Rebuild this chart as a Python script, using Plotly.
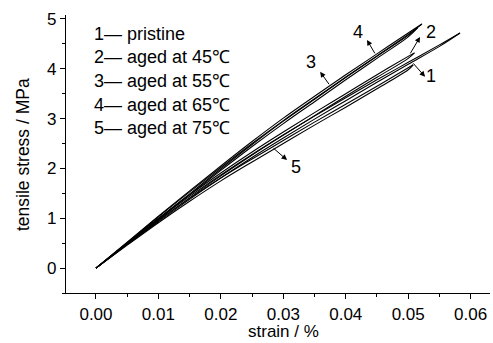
import plotly.graph_objects as go

# ---- data ----
curve_ids = ["1", "2", "3", "4", "5"]
legend_labels = ["pristine", "aged at 45℃", "aged at 55℃", "aged at 65℃", "aged at 75℃"]

strain_1 = [0, 0.005, 0.01, 0.015, 0.02, 0.025, 0.03, 0.035, 0.04, 0.045, 0.05, 0.055, 0.0583]
load_1 = [0, 0.50, 0.98, 1.44, 1.87, 2.28, 2.67, 3.05, 3.42, 3.78, 4.13, 4.48, 4.72]
unload_1 = [0, 0.47, 0.93, 1.38, 1.81, 2.22, 2.61, 2.99, 3.36, 3.73, 4.09, 4.45, 4.72]

strain_2 = [0, 0.005, 0.01, 0.015, 0.02, 0.025, 0.03, 0.035, 0.04, 0.045, 0.05, 0.051]
load_2 = [0, 0.51, 1.00, 1.47, 1.91, 2.33, 2.73, 3.12, 3.50, 3.88, 4.25, 4.32]
unload_2 = [0, 0.48, 0.95, 1.41, 1.85, 2.27, 2.67, 3.06, 3.45, 3.83, 4.21, 4.32]

strain_3 = [0, 0.005, 0.01, 0.015, 0.02, 0.025, 0.03, 0.035, 0.04, 0.045, 0.05, 0.0515]
load_3 = [0, 0.51, 1.03, 1.53, 2.02, 2.50, 2.96, 3.40, 3.83, 4.25, 4.67, 4.82]
unload_3 = [0, 0.48, 0.98, 1.47, 1.96, 2.44, 2.90, 3.34, 3.78, 4.21, 4.64, 4.82]

strain_4 = [0, 0.005, 0.01, 0.015, 0.02, 0.025, 0.03, 0.035, 0.04, 0.045, 0.05, 0.0522]
load_4 = [0, 0.52, 1.04, 1.55, 2.05, 2.54, 3.01, 3.45, 3.88, 4.30, 4.72, 4.90]
unload_4 = [0, 0.49, 0.99, 1.49, 1.99, 2.48, 2.95, 3.39, 3.83, 4.26, 4.69, 4.90]

strain_5 = [0, 0.005, 0.01, 0.015, 0.02, 0.025, 0.03, 0.035, 0.04, 0.045, 0.05, 0.0508]
load_5 = [0, 0.49, 0.96, 1.40, 1.81, 2.19, 2.56, 2.93, 3.29, 3.65, 4.02, 4.08]
unload_5 = [0, 0.46, 0.91, 1.34, 1.75, 2.13, 2.50, 2.87, 3.23, 3.60, 3.98, 4.08]

curves = [
    (strain_1, load_1, unload_1),
    (strain_2, load_2, unload_2),
    (strain_3, load_3, unload_3),
    (strain_4, load_4, unload_4),
    (strain_5, load_5, unload_5),
]

# label callouts: (curve id, label x, label y, arrow head x, arrow head y, curve point x, curve point y)
callouts = [
    ("1", 0.0536, 3.86, 0.0527, 3.84, 0.0506, 4.14),
    ("2", 0.0536, 4.74, 0.0519, 4.64, 0.0502, 4.28),
    ("3", 0.0345, 4.13, 0.0359, 3.94, 0.0375, 3.66),
    ("4", 0.0420, 4.74, 0.0434, 4.58, 0.0448, 4.28),
    ("5", 0.0320, 2.02, 0.0306, 2.17, 0.0282, 2.43),
]

x_ticks = [0.00, 0.01, 0.02, 0.03, 0.04, 0.05, 0.06]
x_tick_labels = ["0.00", "0.01", "0.02", "0.03", "0.04", "0.05", "0.06"]
y_ticks = [0, 1, 2, 3, 4, 5]
y_tick_labels = ["0", "1", "2", "3", "4", "5"]
x_title = "strain / %"
y_title = "tensile stress / MPa"

FONT = "Liberation Sans, Arial, Helvetica, sans-serif"

fig = go.Figure()
for (sx, ld, ul), cid in zip(curves, curve_ids):
    fig.add_trace(go.Scatter(x=sx, y=ld, mode="lines", line_shape="spline",
                             line=dict(color="black", width=1.1),
                             showlegend=False, hoverinfo="skip"))
    fig.add_trace(go.Scatter(x=sx, y=ul, mode="lines", line_shape="spline",
                             line=dict(color="black", width=1.1),
                             showlegend=False, hoverinfo="skip"))

W, H = 493, 343
ML, MR, MT, MB = 66, 3, 15, 50
pw, ph = W - ML - MR, H - MT - MB


def px_x(v):
    return (v - ML) / pw


def px_y(v):
    return 1 - (v - MT) / ph


annotations = []
for cid, lx, ly, hx, hy, px, py in callouts:
    annotations.append(dict(x=lx, y=ly, xref="x", yref="y", text=cid, showarrow=False,
                            font=dict(family=FONT, size=18, color="black")))
    annotations.append(dict(x=hx, y=hy, ax=px, ay=py, xref="x", yref="y", axref="x", ayref="y",
                            text="", showarrow=True, arrowhead=2, arrowsize=1.1, arrowwidth=1,
                            arrowcolor="black"))

for i, (cid, lab) in enumerate(zip(curve_ids, legend_labels)):
    annotations.append(dict(x=px_x(92), y=px_y(34 + 23.5 * i), xref="paper", yref="paper",
                            text=f"{cid}— {lab}", showarrow=False, xanchor="left", yanchor="middle",
                            font=dict(family=FONT, size=18, color="black")))

# axis titles
annotations.append(dict(x=px_x(283), y=px_y(331), xref="paper", yref="paper", text=x_title,
                        showarrow=False, xanchor="center", yanchor="middle",
                        font=dict(family=FONT, size=17, color="black")))
annotations.append(dict(x=px_x(23), y=px_y(155), xref="paper", yref="paper", text=y_title,
                        showarrow=False, xanchor="center", yanchor="middle", textangle=-90,
                        font=dict(family=FONT, size=17.5, color="black")))

fig.update_layout(
    width=W, height=H,
    margin=dict(l=ML, r=MR, t=MT, b=MB, autoexpand=False),
    paper_bgcolor="white", plot_bgcolor="white",
    font=dict(family=FONT, size=16, color="black"),
    annotations=annotations,
    showlegend=False,
)
fig.update_xaxes(
    range=[-0.0048, 0.0631], tickvals=x_ticks, ticktext=x_tick_labels,
    showline=True, linecolor="black", linewidth=1.2, mirror=False,
    ticks="outside", ticklen=5, tickwidth=1.2, tickcolor="black",
    minor=dict(ticks="outside", ticklen=3, tickwidth=1, tickcolor="black", dtick=0.005, tick0=0),
    showgrid=False, zeroline=False, automargin=False,
    tickfont=dict(family=FONT, size=17),
)
fig.update_yaxes(
    range=[-0.5, 5.08], tickvals=y_ticks, ticktext=y_tick_labels,
    showline=True, linecolor="black", linewidth=1.2, mirror=False,
    ticks="outside", ticklen=5, tickwidth=1.2, tickcolor="black",
    minor=dict(ticks="outside", ticklen=3, tickwidth=1, tickcolor="black", dtick=0.5, tick0=0),
    showgrid=False, zeroline=False, automargin=False,
    tickfont=dict(family=FONT, size=17),
)

fig.write_html("out.html", config={"displayModeBar": False},
               post_script="document.body.style.margin='0';document.body.style.overflow='hidden';")
